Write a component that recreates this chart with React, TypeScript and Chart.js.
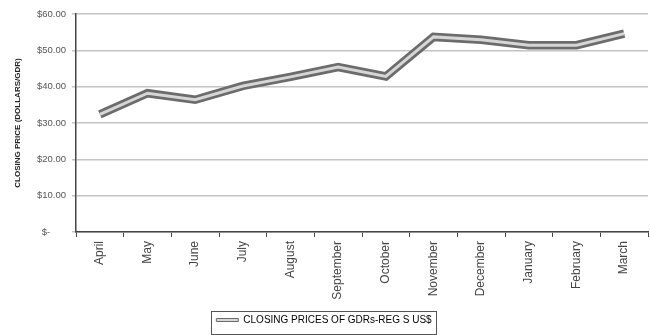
import React, { useEffect, useRef } from "react";
import { Chart, registerables } from "chart.js";

Chart.register(...registerables);

const months = ["April", "May", "June", "July", "August", "September", "October", "November", "December", "January", "February", "March"];
const closingPrices = [32.4, 38.2, 36.4, 40.2, 42.7, 45.4, 42.8, 53.7, 52.9, 51.4, 51.4, 54.6];
const yTickLabels = ["$-      ", "$10.00", "$20.00", "$30.00", "$40.00", "$50.00", "$60.00"];
const seriesLabel = "CLOSING PRICES OF GDRs-REG S US$";
const yAxisTitle = "CLOSING PRICE (DOLLARS/GDR)";

const FONT = "'Liberation Sans', Arial, sans-serif";

const legendBorder = {
  id: "legendBorder",
  afterDraw(chart: any) {
    const lg = chart.legend;
    if (!lg || !lg.legendHitBoxes || !lg.legendHitBoxes.length) return;
    const hb = lg.legendHitBoxes[0];
    const ctx = chart.ctx;
    ctx.save();
    ctx.strokeStyle = "#555";
    ctx.lineWidth = 1;
    ctx.strokeRect(Math.round(hb.left - 5) + 0.5, Math.round(lg.top + 1) + 0.5, Math.round(hb.width + 10), Math.round(lg.height - 2));
    ctx.restore();
  },
};

export default function App() {
  const ref = useRef<HTMLCanvasElement | null>(null);

  useEffect(() => {
    if (!ref.current) return;
    const chart = new Chart(ref.current, {
      type: "line",
      data: {
        labels: months,
        datasets: [
          {
            label: seriesLabel,
            data: closingPrices,
            borderColor: "#d6d6d6",
            borderWidth: 3,
            pointRadius: 0,
            borderJoinStyle: "miter",
            borderCapStyle: "butt",
            tension: 0,
            order: 0,
          },
          {
            label: seriesLabel + " outline",
            data: closingPrices,
            borderColor: "#6c6c6c",
            borderWidth: 8.5,
            pointRadius: 0,
            borderJoinStyle: "miter",
            borderCapStyle: "butt",
            tension: 0,
            order: 1,
          },
        ],
      },
      options: {
        animation: false,
        responsive: false,
        maintainAspectRatio: false,
        layout: { padding: { top: 14, right: 2, left: 0, bottom: 0 } },
        plugins: {
          tooltip: { enabled: false },
          legend: {
            position: "bottom",
            labels: {
              padding: 5,
              boxWidth: 22,
              boxHeight: 3,
              color: "#444",
              font: { family: FONT, size: 10 },
              generateLabels: () => [
                {
                  text: seriesLabel,
                  fillStyle: "#d6d6d6",
                  strokeStyle: "#6c6c6c",
                  lineWidth: 1,
                  hidden: false,
                  datasetIndex: 0,
                },
              ],
            },
          },
        },
        scales: {
          x: {
            type: "category",
            offset: true,
            afterFit: (scale: any) => {
              const lgH = scale.chart.legend ? scale.chart.legend.height : 22;
              scale.height = 335 - 232 - lgH;
            },
            grid: {
              drawOnChartArea: false,
              drawTicks: true,
              tickLength: 5,
              color: "#444",
              offset: true,
            },
            border: { display: true, color: "#444", width: 1.5 },
            ticks: {
              autoSkip: false,
              minRotation: 90,
              maxRotation: 90,
              padding: 4,
              color: "#444",
              font: { family: FONT, size: 12 },
            },
          },
          y: {
            min: 0,
            max: 60,
            afterFit: (scale: any) => {
              scale.width = 76;
            },
            ticks: {
              stepSize: 10,
              padding: 6,
              color: "#555",
              font: { family: FONT, size: 9.5 },
              callback: (_v: any, i: number) => yTickLabels[i],
            },
            grid: {
              color: "#c4c4c4",
              lineWidth: 1.5,
              tickLength: 4,
            },
            border: { display: true, color: "#444", width: 1.5 },
            title: {
              display: true,
              text: yAxisTitle,
              color: "#222",
              font: { family: FONT, size: 8, weight: "bold" },
              padding: { top: 13, bottom: 0 },
            },
          },
        },
      },
      plugins: [legendBorder],
    } as any);
    return () => chart.destroy();
  }, []);

  return (
    <div style={{ position: "fixed", left: 0, top: 0, width: 650, height: 335, background: "#fff" }}>
      <canvas ref={ref} width={650} height={335} style={{ width: 650, height: 335, display: "block" }} />
    </div>
  );
}
